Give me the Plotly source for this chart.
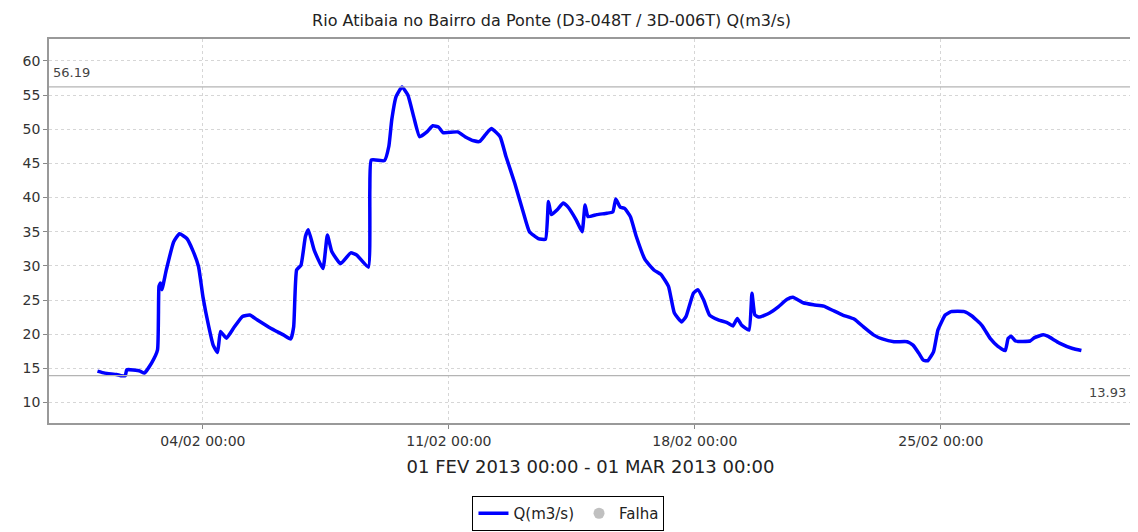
import pandas as pd
import plotly.graph_objects as go

# leitura horaria aproximada (horas desde 01/02/2013 00:00) e vazao em m3/s
hours = [0, 5, 13, 16, 19, 20, 29, 32, 37, 41, 42, 43, 44, 47, 52, 56, 61, 65, 69, 72,
         76, 79, 82, 84, 88, 93, 99, 104, 109, 118, 127, 132, 134, 136, 139, 142, 144, 148, 154, 157,
         160, 166, 173, 177, 185, 186, 187, 196, 199, 201, 204, 208, 212, 216, 220, 225, 229, 233, 236, 246,
         251, 257, 261, 265, 269, 275, 279, 285, 291, 295, 301, 306, 308, 310, 314, 318, 321, 327, 331, 333,
         335, 341, 348, 352, 354, 357, 360, 364, 368, 374, 380, 385, 390, 394, 399, 402, 407, 410, 414, 418,
         424, 430, 434, 437, 440, 445, 447, 449, 452, 459, 465, 471, 475, 482, 489, 496, 502, 509, 517, 523,
         530, 536, 544, 547, 553, 557, 561, 564, 567, 571, 574, 579, 583, 592, 597, 604, 610, 615, 620, 622,
         624, 627, 637, 640, 646, 649, 657, 666, 672]
flow = [14.6, 14.3, 14.1, 13.93, 13.93, 14.8, 14.6, 14.3, 15.8, 17.7, 27.0, 27.5, 26.5, 29.4, 33.5, 34.7, 34.0, 32.3, 29.9, 25.5,
        21.1, 18.4, 17.3, 20.4, 19.4, 20.9, 22.6, 22.8, 22.1, 20.9, 19.9, 19.3, 21.1, 29.4, 30.1, 34.3, 35.3, 32.3, 29.6, 34.5,
        32.1, 30.3, 31.9, 31.6, 29.8, 41.1, 45.5, 45.4, 47.5, 51.4, 54.8, 56.19, 55.0, 51.8, 48.9, 49.6, 50.5, 50.3, 49.5, 49.6,
        48.9, 48.3, 48.2, 49.2, 50.1, 48.9, 46.0, 42.1, 37.7, 35.0, 34.0, 33.9, 39.4, 37.5, 38.2, 39.2, 38.7, 36.7, 35.0, 38.9,
        37.2, 37.5, 37.7, 37.9, 39.8, 38.6, 38.4, 37.2, 34.3, 30.9, 29.4, 28.7, 27.0, 23.1, 21.8, 22.6, 26.0, 26.5, 25.0, 22.8,
        22.1, 21.7, 21.2, 22.3, 21.3, 20.6, 26.0, 22.8, 22.5, 23.1, 24.0, 25.1, 25.4, 24.6, 24.3, 24.1, 23.5, 22.8, 22.2, 21.1,
        19.9, 19.3, 18.9, 18.9, 18.9, 18.4, 17.2, 16.2, 16.1, 17.4, 20.6, 22.8, 23.3, 23.3, 22.7, 21.3, 19.3, 18.2, 17.6, 19.4,
        19.7, 19.0, 19.0, 19.5, 19.9, 19.7, 18.7, 17.9, 17.6]

q_max = 56.19
q_min = 13.93

start = pd.Timestamp("2013-02-01 00:00")
times = start + pd.to_timedelta(hours, unit="h")

font = "DejaVu Sans"

fig = go.Figure()
fig.add_trace(go.Scatter(x=times, y=flow, mode="lines", name="Q(m3/s)",
                         line=dict(color="#0000ff", width=3.5, shape="spline", smoothing=0.4)))
fig.add_trace(go.Scatter(x=[None], y=[None], mode="markers", name="Falha",
                         marker=dict(color="#c0c0c0", size=11)))

for v in (q_max, q_min):
    fig.add_shape(type="line", xref="paper", x0=0, x1=1, yref="y", y0=v, y1=v,
                  line=dict(color="#b4b4b4", width=1.2))

fig.add_annotation(text=f"{q_max:.2f}", xref="paper", x=0, xanchor="left", xshift=2,
                   yref="y", y=q_max, yanchor="bottom", yshift=5, showarrow=False,
                   font=dict(family=font, size=13, color="#444"))
fig.add_annotation(text=f"{q_min:.2f}", xref="paper", x=1, xanchor="right", xshift=-4,
                   yref="y", y=q_min, yanchor="top", yshift=-7, showarrow=False,
                   font=dict(family=font, size=13, color="#444"))

# the page body adds an 8px margin, so the figure is 8px smaller on each side
fig.update_layout(
    width=1130, height=524,
    margin=dict(l=41, r=6, t=31, b=109),
    paper_bgcolor="white", plot_bgcolor="white",
    font=dict(family=font, size=14, color="#333"),
    title=dict(text="Rio Atibaia no Bairro da Ponte (D3-048T / 3D-006T) Q(m3/s)",
               x=0.481, xref="container", xanchor="center",
               y=1 - 12 / 524, yref="container",
               yanchor="middle", font=dict(size=16, color="#222")),
    showlegend=True,
    legend=dict(orientation="h", xref="container", x=0.496, xanchor="center",
                yref="container", y=1 - 488 / 524, yanchor="top",
                bordercolor="#000", borderwidth=1, bgcolor="white",
                font=dict(size=15, color="#222"), itemwidth=30,
                tracegroupgap=0),
)

fig.update_xaxes(
    range=["2013-01-30 14:53", "2013-03-02 10:34"],
    tick0="2013-02-04", dtick=7 * 24 * 3600 * 1000,
    tickformat="%d/%m %H:%M",
    ticks="outside", ticklen=4, tickcolor="#888",
    showgrid=True, gridcolor="#d6d6d6", griddash="3px,3px", gridwidth=1,
    showline=True, linecolor="#999", linewidth=1.5, mirror=True,
    zeroline=False, automargin=False,
    title=dict(text="01 FEV 2013 00:00 - 01 MAR 2013 00:00",
               font=dict(size=18, color="#222"), standoff=13),
)
fig.update_yaxes(
    range=[7.0, 63.2], tick0=10, dtick=5,
    ticks="outside", ticklen=4, tickcolor="#888",
    showgrid=True, gridcolor="#d6d6d6", griddash="3px,3px", gridwidth=1,
    showline=True, linecolor="#999", linewidth=1.5, mirror=True,
    zeroline=False, automargin=False,
)

fig.write_html("out.html")
